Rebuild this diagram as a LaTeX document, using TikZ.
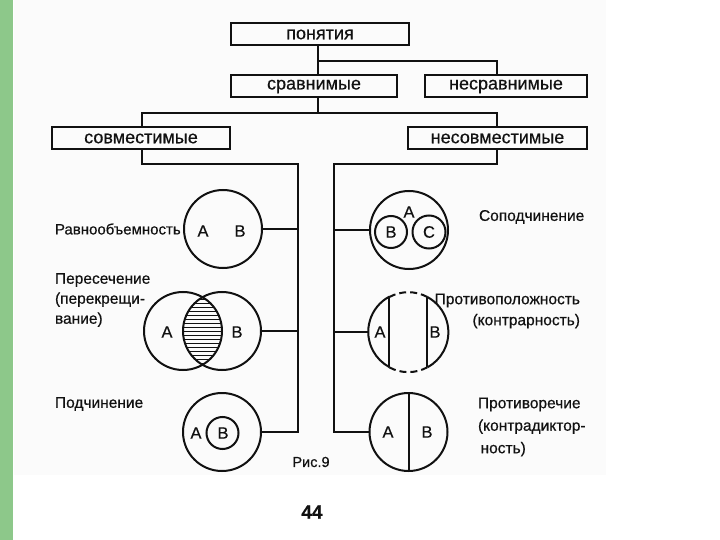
\documentclass[tikz,border=0pt]{standalone}
\usepackage{fontspec}
\setmainfont{Liberation Sans}[FakeBold=0.5]
\usepackage{tikz}
\usetikzlibrary{positioning,calc}
\definecolor{ink}{HTML}{111111}
\definecolor{strip}{HTML}{8DC88A}
\definecolor{paper}{HTML}{FBFBFB}
\newcommand{\LB}{298}
\newcommand{\RB}{334}
\newcommand{\Mx}{318}

\begin{document}
\begin{tikzpicture}[x=1pt,y=-1pt, every node/.style={text=ink}, line width=2pt,
  termbox/.style={draw=ink, inner sep=0pt, minimum height=22pt, font=\fontsize{18}{18}\selectfont},
  venn/.style={circle, draw=ink, inner sep=0pt, outer sep=0pt},
  caption/.style={font=\fontsize{15.5}{20}\selectfont, inner sep=0pt, align=left},
  letter/.style={font=\fontsize{16.5}{16.5}\selectfont, inner sep=0pt}]
\useasboundingbox (0,0) rectangle (720,540);
% ---- page: green strip at the left, faint scanned sheet
\fill[paper] (14,0) rectangle (606,475);
\fill[strip] (0,0) rectangle (13,540);
% ---- TREE: term boxes
\node[termbox, minimum width=178pt] (ponyat) at (320,34.5) {понятия};
\node[termbox, minimum width=166pt] (sravn)  at (314,86.5) {сравнимые};
\node[termbox, minimum width=162pt] (nesravn) at (506,86.5) {несравнимые};
\node[termbox, minimum width=178pt] (sovm)   at (141,138.5) {совместимые};
\node[termbox, minimum width=179pt] (nesovm) at (497.5,138.5) {несовместимые};
\coordinate (xl) at (142,0);
\coordinate (xr) at (497,0);
\coordinate (fork1) at (\Mx,61);
\coordinate (fork2) at (\Mx,113);
\coordinate (ltop) at (\LB,164);
\coordinate (rtop) at (\RB,164);
\draw[ink] (ponyat.south -| fork1) -- (sravn.north -| fork1);
\draw[ink] (fork1) -| (nesravn.north -| xr);
\draw[ink] (sravn.south -| fork2) -- (fork2);
\draw[ink] (sovm.north -| xl) |- (fork2) -| (nesovm.north -| xr);
% ---- LEFT column: compatible relations
\node[venn, minimum size=78pt] (ravno) at (223,229) {};
\node[letter] (ravnoA) at (203,231) {A};
\node[letter] (ravnoB) at (240,231) {B};
\node[caption, anchor=west, font=\fontsize{15}{20}\selectfont] (lblRavno) at (54,229) {Равнообъемность};
\begin{scope}
  \clip (183,331) circle (39pt);
  \clip (222,331) circle (39pt);
  \foreach \y in {299,303,...,363} { \draw[ink, line width=1pt] (180,\y) -- (226,\y); }
\end{scope}
\node[venn, minimum size=78pt] (isecA) at (183,331) {};
\node[venn, minimum size=78pt] (isecB) at (222,331) {};
\node[letter] (isecTa) at (167,332) {A};
\node[letter] (isecTb) at (237,332) {B};
\node[caption, anchor=west] (lblPeres) at (54,300) {Пересечение\\(перекрещи-\\вание)};
\node[venn, minimum size=78pt] (podch) at (222,432) {};
\node[venn, minimum size=32pt] (podchB) at (222.5,433) {};
\node[letter] (podchTa) at (196,433) {A};
\node[letter] (podchTb) at (223,433) {B};
\node[caption, anchor=west] (lblPodch) at (54,404) {Подчинение};
\draw[ink] (sovm.south -| xl) |- (ltop) -- (ltop |- podch.east) -- (podch.east);
\draw[ink] (ravno.east) -- (ravno.east -| ltop);
\draw[ink] (isecB.east) -- (isecB.east -| ltop);
% ---- RIGHT column: incompatible relations
\node[venn, minimum size=78pt] (sopod) at (409,230) {};
\node[venn, minimum size=32pt] (sopodB) at (391,232) {};
\node[venn, minimum size=33pt] (sopodC) at (429,232) {};
\node[letter] (sopodTa) at (409,212) {A};
\node[letter] (sopodTb) at (391,232) {B};
\node[letter] (sopodTc) at (429,232) {C};
\node[caption, anchor=west] (lblSopod) at (478,217) {Соподчинение};
\node[circle, inner sep=0pt, outer sep=0pt, minimum size=80pt] (kontr) at (408,332) {};
\draw[ink] (kontr.61.6) arc[start angle=61.6, end angle=-61.6, radius=40pt];
\draw[ink] (kontr.118.4) arc[start angle=118.4, end angle=241.6, radius=40pt];
\draw[ink, dash pattern=on 7pt off 4pt] (kontr.61.6) arc[start angle=61.6, end angle=118.4, radius=40pt];
\draw[ink, dash pattern=on 7pt off 4pt] (kontr.-118.4) arc[start angle=-118.4, end angle=-61.6, radius=40pt];
\draw[ink] (kontr.118.4) -- (kontr.-118.4);
\draw[ink] (kontr.61.6) -- (kontr.-61.6);
\node[letter] (kontrA) at (380,332) {A};
\node[letter] (kontrB) at (435,332) {B};
\node[caption, anchor=east, align=right, font=\fontsize{15.5}{21}\selectfont] (lblKontr) at (581,311) {Противоположность\\(контрарность)};
\node[venn, minimum size=78pt] (protiv) at (408.5,432) {};
\draw[ink] (protiv.north) -- (protiv.south);
\node[letter] (protivA) at (388,432) {A};
\node[letter] (protivB) at (427,432) {B};
\node[caption, anchor=west, font=\fontsize{15.5}{22.5}\selectfont] (lblProtiv) at (477,427) {Противоречие\\(контрадиктор-\\\,ность)};
\draw[ink] (nesovm.south -| xr) |- (rtop) -- (rtop |- protiv.west) -- (protiv.west);
\draw[ink] (sopod.west) -- (sopod.west -| rtop);
\draw[ink] (kontr.west) -- (kontr.west -| rtop);
% ---- figure caption and page number
\node[font=\fontsize{14.5}{14.5}\selectfont, inner sep=0pt] (fig) at (311,462) {Рис.9};
\node[font=\fontsize{19}{19}\selectfont\bfseries, inner sep=0pt] (pagenum) at (312,512) {44};
\end{tikzpicture}
\end{document}
